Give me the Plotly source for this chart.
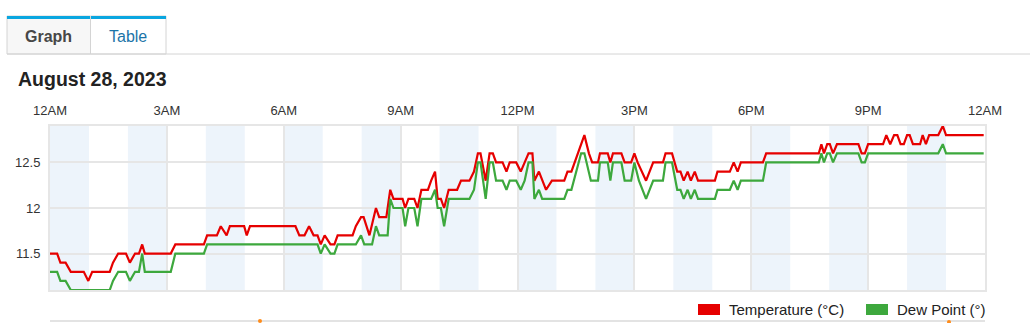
import plotly.graph_objects as go

DAY = "2023-08-28"
NEXT_DAY = "2023-08-29"

temp_times = ["00:00","00:11","00:16","00:24","00:32","00:52","00:59","01:05","01:32","01:37",
              "01:45","01:57","02:03","02:11","02:17","02:22","02:26","03:06","03:13","03:57",
              "04:02","04:17","04:23","04:32","04:37","04:59","05:03","05:08","06:18","06:24",
              "06:32","06:39","06:46","06:52","06:57","07:03","07:12","07:18","07:23","07:46",
              "07:51","07:59","08:03","08:12","08:22","08:27","08:38","08:44","08:49","09:03",
              "09:07","09:12","09:21","09:26","09:32","09:42","09:47","09:53","09:57","10:02",
              "10:07","10:14","10:27","10:33","10:46","10:53","10:59","11:03","11:11","11:17",
              "11:22","11:27","11:37","11:43","11:48","11:58","12:05","12:11","12:17","12:23",
              "12:26","12:33","12:44","12:53","13:12","13:17","13:23","13:43","13:50","13:55",
              "14:04","14:07","14:19","14:23","14:27","14:40","14:45","14:55","15:00","15:05",
              "15:18","15:29","15:44","15:48","15:58","16:06","16:11","16:16","16:22","16:27",
              "16:33","16:38","17:04","17:08","17:27","17:33","17:39","17:44","18:18","18:23",
              "19:44","19:48","19:52","19:57","20:01","20:06","20:12","20:45","20:50","20:55",
              "21:00","21:23","21:28","21:34","21:40","21:45","21:50","21:55","22:00","22:04",
              "22:09","22:20","22:24","22:29","22:34","22:48","22:55","23:00","23:58"]
temp_values = [11.5,11.5,11.4,11.4,11.3,11.3,11.2,11.3,11.3,11.4,
               11.5,11.5,11.4,11.5,11.5,11.6,11.5,11.5,11.6,11.6,
               11.7,11.7,11.8,11.7,11.8,11.8,11.7,11.8,11.8,11.7,
               11.7,11.8,11.7,11.7,11.6,11.7,11.6,11.6,11.7,11.7,
               11.8,11.9,11.9,11.7,12.0,11.9,11.9,12.2,12.1,12.1,
               12.0,12.1,12.1,12.0,12.2,12.2,12.3,12.4,12.1,12.1,
               12.0,12.2,12.2,12.3,12.3,12.4,12.6,12.6,12.3,12.6,
               12.6,12.5,12.5,12.4,12.5,12.5,12.4,12.5,12.6,12.6,
               12.3,12.4,12.2,12.3,12.3,12.4,12.4,12.8,12.6,12.5,
               12.5,12.6,12.6,12.5,12.6,12.6,12.5,12.5,12.6,12.5,
               12.3,12.5,12.5,12.6,12.6,12.4,12.4,12.3,12.4,12.3,
               12.4,12.3,12.3,12.4,12.4,12.5,12.4,12.5,12.5,12.6,
               12.6,12.7,12.6,12.7,12.7,12.6,12.7,12.7,12.6,12.6,
               12.7,12.7,12.8,12.7,12.8,12.8,12.7,12.7,12.8,12.8,
               12.7,12.7,12.8,12.7,12.8,12.8,12.9,12.8,12.8]

dew_times = ["00:00","00:11","00:16","00:24","00:32","01:32","01:37","01:45","01:57","02:03",
             "02:11","02:17","02:22","02:26","03:06","03:13","03:57","04:02","06:52","06:57",
             "07:03","07:12","07:18","07:23","07:51","07:59","08:04","08:16","08:22","08:27",
             "08:40","08:44","08:49","09:03","09:07","09:12","09:21","09:26","09:32","09:47",
             "09:53","09:57","10:02","10:07","10:14","10:46","10:53","10:59","11:03","11:11",
             "11:17","11:22","11:27","11:37","11:43","11:48","11:58","12:05","12:11","12:17",
             "12:23","12:26","12:33","12:38","13:12","13:17","13:23","13:38","13:43","13:53",
             "14:04","14:07","14:19","14:23","14:27","14:40","14:45","14:55","15:00","15:07",
             "15:18","15:29","15:44","15:48","15:58","16:06","16:11","16:16","16:22","16:27",
             "16:33","16:38","17:04","17:08","17:27","17:33","17:39","17:44","18:18","18:23",
             "19:44","19:48","19:52","19:57","20:01","20:06","20:12","20:45","20:50","20:55",
             "21:00","22:48","22:55","23:00","23:58"]
dew_values = [11.3,11.3,11.2,11.2,11.1,11.1,11.2,11.3,11.3,11.2,
              11.3,11.3,11.5,11.3,11.3,11.5,11.5,11.6,11.6,11.5,
              11.6,11.5,11.5,11.6,11.6,11.7,11.6,11.6,11.8,11.7,
              11.7,12.1,12.0,12.0,11.8,12.0,12.0,11.8,12.1,12.1,
              12.2,12.0,12.0,11.8,12.1,12.1,12.2,12.5,12.5,12.1,
              12.5,12.5,12.3,12.3,12.2,12.3,12.3,12.2,12.3,12.5,
              12.5,12.1,12.2,12.1,12.1,12.2,12.2,12.6,12.6,12.3,
              12.3,12.5,12.5,12.3,12.5,12.5,12.3,12.3,12.5,12.3,
              12.1,12.3,12.3,12.5,12.5,12.2,12.2,12.1,12.2,12.1,
              12.2,12.1,12.1,12.2,12.2,12.3,12.2,12.3,12.3,12.5,
              12.5,12.6,12.5,12.6,12.6,12.5,12.6,12.6,12.5,12.5,
              12.6,12.6,12.7,12.6,12.6]

series_names = ["Temperature (°C)", "Dew Point (°)"]
series_colors = ["#e60000", "#3da83d"]
y_ticks = [11.5, 12, 12.5]
y_tick_labels = ["11.5", "12", "12.5"]

FONT = "Liberation Sans, Arial, Helvetica, sans-serif"
W, H = 1030, 323
L, R, T, B = 50, 45, 126, 33
PW, PH = W - L - R, H - T - B


def px(x):
    return (x - L) / PW


def py(y):
    return (H - B - y) / PH


fig = go.Figure()
fig.add_trace(go.Scatter(
    x=[f"{DAY} {t}" for t in temp_times], y=temp_values, mode="lines",
    name=series_names[0], line=dict(color=series_colors[0], width=2.2),
    showlegend=False, hoverinfo="x+y"))
fig.add_trace(go.Scatter(
    x=[f"{DAY} {t}" for t in dew_times], y=dew_values, mode="lines",
    name=series_names[1], line=dict(color=series_colors[1], width=2.2),
    showlegend=False, hoverinfo="x+y"))

shapes = []
# alternating hour bands
for h in range(0, 24, 2):
    shapes.append(dict(type="rect", xref="x", yref="paper",
                       x0=f"{DAY} {h:02d}:00", x1=f"{DAY} {h + 1:02d}:00", y0=0, y1=1,
                       fillcolor="#edf4fb", line=dict(width=0), layer="below"))

# tabs
shapes += [
    dict(type="rect", xref="paper", yref="paper", x0=px(7), x1=px(90.5), y0=py(54), y1=py(16),
         fillcolor="#f7f7f7", line=dict(color="#d4d4d4", width=1), layer="above"),
    dict(type="rect", xref="paper", yref="paper", x0=px(90.5), x1=px(166), y0=py(54), y1=py(16),
         fillcolor="#ffffff", line=dict(color="#d4d4d4", width=1), layer="above"),
    dict(type="line", xref="paper", yref="paper", x0=px(7), x1=px(1030), y0=py(54), y1=py(54),
         line=dict(color="#d4d4d4", width=1), layer="above"),
    dict(type="rect", xref="paper", yref="paper", x0=px(7), x1=px(90), y0=py(19), y1=py(16),
         fillcolor="#0aa6e0", line=dict(width=0), layer="above"),
    dict(type="rect", xref="paper", yref="paper", x0=px(91), x1=px(166), y0=py(19), y1=py(16),
         fillcolor="#0aa6e0", line=dict(width=0), layer="above"),
]
# legend swatches
for sx, c in zip([698, 866], series_colors):
    shapes.append(dict(type="rect", xref="paper", yref="paper", x0=px(sx), x1=px(sx + 22),
                       y0=py(315), y1=py(304), fillcolor=c, line=dict(width=0), layer="above"))
# top edge of the next chart below
shapes.append(dict(type="line", xref="paper", yref="paper", x0=px(50), x1=px(985),
                   y0=py(321), y1=py(321), line=dict(color="#e3e3e3", width=2), layer="above"))
for ox, oy in [(260, 321), (949, 322)]:
    shapes.append(dict(type="circle", xref="paper", yref="paper", x0=px(ox - 2), x1=px(ox + 2),
                       y0=py(oy + 2), y1=py(oy - 2), fillcolor="#ff8c1a", line=dict(width=0),
                       layer="above"))

annotations = [
    dict(text="<b>Graph</b>", x=px(48.5), y=py(36), xref="paper", yref="paper",
         showarrow=False, xanchor="center", yanchor="middle",
         font=dict(family=FONT, size=16, color="#474747")),
    dict(text="Table", x=px(128), y=py(36), xref="paper", yref="paper",
         showarrow=False, xanchor="center", yanchor="middle",
         font=dict(family=FONT, size=16, color="#1b74a8")),
    dict(text="<b>August 28, 2023</b>", x=px(15.5), y=py(79), xref="paper", yref="paper",
         showarrow=False, xanchor="left", yanchor="middle",
         font=dict(family=FONT, size=19.5, color="#222222")),
]
for tx, name in zip([727, 895], series_names):
    annotations.append(dict(text=name, x=px(tx), y=py(309.5), xref="paper", yref="paper",
                            showarrow=False, xanchor="left", yanchor="middle",
                            font=dict(family=FONT, size=15, color="#222222")))

fig.update_layout(
    width=W, height=H, margin=dict(l=L, r=R, t=T, b=B, pad=0),
    paper_bgcolor="white", plot_bgcolor="white",
    font=dict(family=FONT, size=13, color="#333333"),
    shapes=shapes, annotations=annotations, showlegend=False,
    xaxis=dict(type="date", range=[f"{DAY} 00:00", f"{NEXT_DAY} 00:00"], side="top",
               dtick=3 * 3600 * 1000, tick0=f"{DAY} 00:00", tickformat="%-I%p",
               showgrid=True, gridcolor="#e6e6e6", gridwidth=2,
               showline=True, mirror=True, linecolor="#e6e6e6", linewidth=2,
               ticks="outside", ticklen=4, tickcolor="rgba(0,0,0,0)",
               tickfont=dict(family=FONT, size=13, color="#333333"), zeroline=False,
               fixedrange=True),
    yaxis=dict(range=[11.1, 12.9], tickvals=y_ticks, ticktext=y_tick_labels,
               showgrid=True, gridcolor="#e6e6e6", gridwidth=2,
               showline=True, mirror=True, linecolor="#e6e6e6", linewidth=2,
               ticks="outside", ticklen=5, tickcolor="rgba(0,0,0,0)",
               tickfont=dict(family=FONT, size=13, color="#333333"), zeroline=False,
               fixedrange=True),
)

fig.write_html("out.html")
